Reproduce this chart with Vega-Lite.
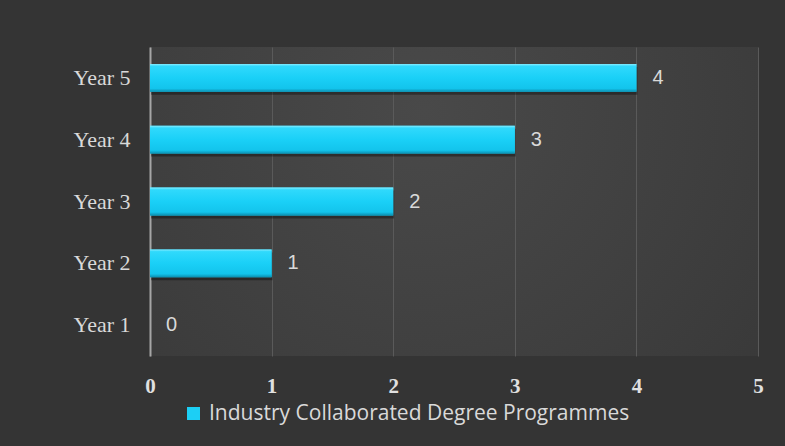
{
  "$schema": "https://vega.github.io/schema/vega-lite/v6.json",
  "width": 608,
  "height": 309,
  "autosize": {"type": "none"},
  "padding": {"left": 150, "top": 47, "right": 27, "bottom": 90},
  "background": "#343434",
  "config": {
    "view": {
      "stroke": null,
      "fill": {
        "gradient": "radial",
        "x1": 0.45, "y1": 0.35, "x2": 0.45, "y2": 0.35, "r1": 0, "r2": 0.75,
        "stops": [
          {"offset": 0, "color": "#494949"},
          {"offset": 0.6, "color": "#3f3f3f"},
          {"offset": 1, "color": "#383838"}
        ]
      }
    }
  },
  "data": {
    "values": [
      {"year": "Year 1", "value": 0, "series": "Industry Collaborated Degree Programmes"},
      {"year": "Year 2", "value": 1, "series": "Industry Collaborated Degree Programmes"},
      {"year": "Year 3", "value": 2, "series": "Industry Collaborated Degree Programmes"},
      {"year": "Year 4", "value": 3, "series": "Industry Collaborated Degree Programmes"},
      {"year": "Year 5", "value": 4, "series": "Industry Collaborated Degree Programmes"}
    ]
  },
  "encoding": {
    "y": {
      "field": "year",
      "type": "nominal",
      "sort": "descending",
      "scale": {"paddingInner": 0.55, "paddingOuter": 0.275},
      "axis": {
        "title": null,
        "ticks": false,
        "domain": true,
        "domainColor": "#a6a6a6",
        "domainWidth": 2,
        "labelFont": "Liberation Serif",
        "labelFontSize": 22,
        "labelColor": "#d9d9d9",
        "labelPadding": 20,
        "grid": false
      }
    },
    "x": {
      "field": "value",
      "type": "quantitative",
      "scale": {"domain": [0, 5], "nice": false},
      "axis": {
        "title": null,
        "values": [0, 1, 2, 3, 4, 5],
        "ticks": false,
        "domain": false,
        "grid": true,
        "gridColor": "#5a5a5a",
        "gridWidth": 1,
        "labelFlush": false,
        "labelFont": "Liberation Serif",
        "labelFontWeight": "bold",
        "labelFontSize": 21,
        "labelColor": "#e0e0e0",
        "labelPadding": 19
      }
    }
  },
  "layer": [
    {
      "mark": {"type": "bar", "color": "#000000", "opacity": 0.35, "yOffset": 3, "xOffset": 1}
    },
    {
      "mark": {"type": "bar"},
      "encoding": {
        "color": {
          "field": "series",
          "type": "nominal",
          "scale": {"range": ["#1ccff5"]},
          "legend": {
            "title": null,
            "orient": "none",
            "legendX": 33,
            "legendY": 356,
            "padding": 0,
            "symbolType": "square",
            "symbolSize": 169,
            "symbolStrokeWidth": 0,
            "labelFont": "Open Sans",
            "labelFontSize": 21,
            "labelColor": "#d9d9d9",
            "labelLimit": 600,
            "labelOffset": 5
          }
        }
      }
    },
    {
      "mark": {
        "type": "bar",
        "color": {
          "gradient": "linear",
          "x1": 0, "y1": 0, "x2": 0, "y2": 1,
          "stops": [
            {"offset": 0, "color": "#86ecff"},
            {"offset": 0.08, "color": "#30d9fc"},
            {"offset": 0.5, "color": "#1ad0f7"},
            {"offset": 0.88, "color": "#13c4ec"},
            {"offset": 1, "color": "#0b8fb0"}
          ]
        }
      }
    },
    {
      "mark": {
        "type": "text",
        "align": "left",
        "baseline": "middle",
        "dx": 16,
        "font": "Liberation Sans",
        "fontSize": 20,
        "color": "#d9d9d9"
      },
      "encoding": {"text": {"field": "value", "type": "quantitative"}}
    }
  ]
}
